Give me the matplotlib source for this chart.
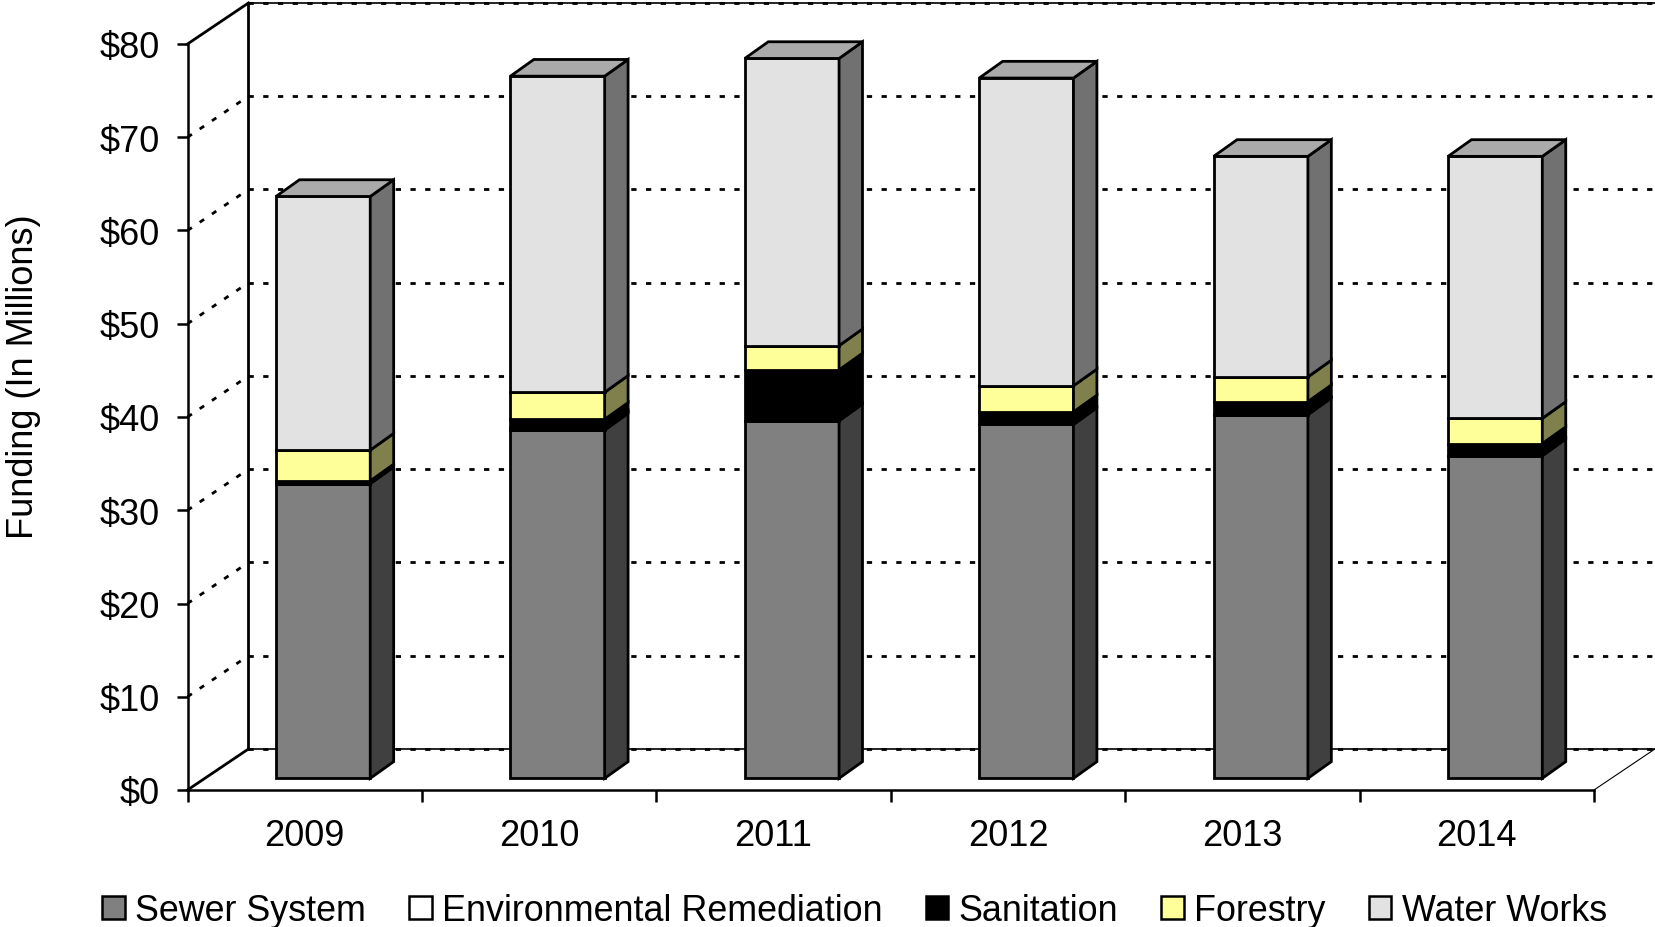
import numpy as np
import matplotlib
matplotlib.use('Agg')
import matplotlib.pyplot as plt
from matplotlib.colors import to_rgb
from matplotlib.patches import Patch

plt.rcParams['font.family'] = ['Liberation Sans', 'DejaVu Sans']

years = ['2009', '2010', '2011', '2012', '2013', '2014']
sewer = [31.6, 37.35, 38.35, 37.95, 39.0, 34.6]
environmental = [0, 0.25, 0, 0, 0, 0]
sanitation = [0.3, 0.9, 5.45, 1.35, 1.4, 1.3]
forestry = [3.3, 2.9, 2.6, 2.8, 2.65, 2.7]
water = [27.2, 33.9, 30.8, 33.0, 23.65, 28.1]

series = [sewer, environmental, sanitation, forestry, water]
names = ['Sewer System', 'Environmental Remediation', 'Sanitation', 'Forestry', 'Water Works']
colors = ['#808080', '#FFFFFF', '#000000', '#FFFF99', '#E2E2E2']

W, H = 1655, 928
fs = 26
fig = plt.figure(figsize=(W / 100, H / 100), dpi=100)
# front plane of the fake 3d box
ax = fig.add_axes([187.5 / W, (H - 791) / H, 1406.5 / W, 746 / H])
ax.set_xlim(0, 6)
ax.set_ylim(0, 80)

# depth of the box and of the bars, in data units
box_dx, box_dy = 0.26, 4.4
bar_dx, bar_dy = 0.1, 1.79
bar_shift_x, bar_shift_y = 0.0785, 1.25
bar_width = 0.402


def shade(color, k):
    return tuple(c * k for c in to_rgb(color))


# walls
dots = dict(color='black', lw=2, dashes=(1.9, 3.4), clip_on=False, zorder=1)
for v in range(0, 90, 10):
    ax.plot([box_dx, 6 + box_dx], [v + box_dy, v + box_dy], **dots)
    if 0 < v < 80:
        ax.plot([0, box_dx], [v, v + box_dy], **dots)
wall = dict(color='black', clip_on=False, zorder=1, solid_capstyle='projecting')
ax.plot([box_dx, box_dx], [box_dy, 80 + box_dy], lw=2, **wall)
ax.plot([0, box_dx], [80, 80 + box_dy], lw=2, **wall)
ax.plot([0, box_dx], [0, box_dy], lw=2, **wall)
ax.plot([box_dx, 6 + box_dx], [80 + box_dy, 80 + box_dy], lw=1.2, **wall)
ax.plot([box_dx, 6 + box_dx], [box_dy, box_dy], lw=1.2, **wall)
ax.plot([6, 6 + box_dx], [0, box_dy], lw=0.8, **wall)

# stacked bars
x = np.arange(6) + 0.5 + bar_shift_x
bottom = np.full(6, bar_shift_y)
edge = dict(edgecolor='black', linewidth=2, joinstyle='miter', clip_on=False, zorder=3)
for values, color in zip(series, colors):
    values = np.array(values, dtype=float)
    keep = values > 0
    ax.bar(x[keep], values[keep], bar_width, bottom[keep], color=color, **edge)
    for xi, b, v in zip(x[keep], bottom[keep], values[keep]):
        r = xi + bar_width / 2
        ax.fill([r, r + bar_dx, r + bar_dx, r],
                [b, b + bar_dy, b + v + bar_dy, b + v],
                facecolor=shade(color, 0.5), **edge)
    bottom = bottom + values

# lid of each stack
for xi, top in zip(x, bottom):
    l = xi - bar_width / 2
    r = xi + bar_width / 2
    ax.fill([l, r, r + bar_dx, l + bar_dx],
            [top, top, top + bar_dy, top + bar_dy],
            facecolor=shade(colors[-1], 0.75), **edge)

for side in ['top', 'right']:
    ax.spines[side].set_visible(False)
for side in ['left', 'bottom']:
    ax.spines[side].set_linewidth(1.8)
    ax.spines[side].set_zorder(2)

ax.set_yticks(range(0, 90, 10))
ax.set_yticklabels(['$%d' % v for v in range(0, 90, 10)], fontsize=fs)
ax.set_xticks(range(7))
ax.set_xticklabels([])
ax.set_xticks(np.arange(6) + 0.5, years, minor=True, fontsize=fs)
ax.tick_params(axis='y', length=8, width=1.8, pad=12)
ax.tick_params(axis='x', which='major', length=8.5, width=1.8)
ax.tick_params(axis='x', which='minor', length=0, pad=20.5)

ax.set_ylabel('Funding (In Millions)', fontsize=fs)
ax.yaxis.set_label_coords(-146 / 1406.5, 0.556)

handles = [Patch(facecolor=c, edgecolor='black', linewidth=1.8) for c in colors]
ax.legend(handles, names, ncol=5, frameon=False, fontsize=25.8,
          loc='center', bbox_to_anchor=(0.4744, -0.162),
          handlelength=0.62, handleheight=0.62, handletextpad=0.3,
          columnspacing=1.2, borderpad=0, borderaxespad=0)

fig.savefig('out.png', dpi=100)
